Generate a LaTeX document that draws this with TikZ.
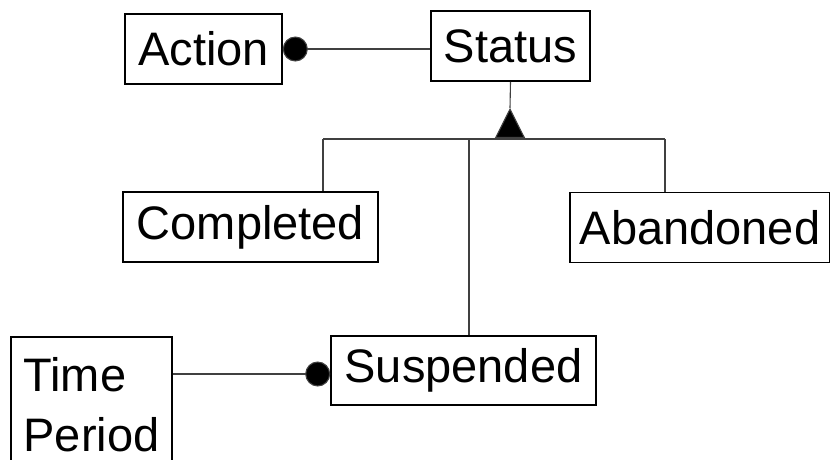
\documentclass[tikz,border=0pt]{standalone}
\usepackage{fontspec}
\setmainfont{Liberation Sans}
\usetikzlibrary{arrows.meta, positioning, calc}

\begin{document}
\begin{tikzpicture}[
  x=1pt, y=-1pt,
  entity/.style={rectangle, draw=black, line width=1.6pt, fill=white, minimum height=70pt, inner sep=0pt, align=center, font=\fontsize{47}{60}\selectfont},
  link/.style={draw=black!75, line width=1.1pt},
  dotlink/.style={link, -{Circle[length=25pt, fill=black]}},
  isa/.style={link, -{Triangle[length=30pt, width=30pt, fill=black]}}
]
  \useasboundingbox (0,0) rectangle (830,459);

  \node[entity, minimum width=157pt] (action) at (203.5,49) {Action};
  \node[entity, minimum width=159pt] (status) at (510.5,46) {Status};
  \node[entity, minimum width=255pt] (completed) at (250.5,227) {Completed};
  \node[entity, minimum width=260pt] (abandoned) at (700,227.5) {Abandoned};
  \node[entity, minimum width=265pt, minimum height=69pt] (suspended) at (463.5,370.5) {Suspended};
  \node[entity, minimum width=161pt, minimum height=136pt, align=left] (period) at (91.5,405) {Time\\Period};

  \coordinate (apex) at (510,108);
  \coordinate (gen) at (510,139);
  \coordinate (barL) at (323,139);
  \coordinate (barM) at (469,139);
  \coordinate (barR) at (665,139);

  \draw[dotlink] (status.west |- action.east) -- (action.east);
  \draw[link] (status.south) -- (apex);
  \draw[isa] (gen) -- (apex);
  \draw[link] (barL) -- (barR);
  \draw[link] (barL) -- (barL |- completed.north);
  \draw[link] (barR) -- (barR |- abandoned.north);
  \draw[link] (barM) -- (barM |- suspended.north);
  \draw[dotlink] (period.east |- 0,374) -- (suspended.west |- 0,374);
\end{tikzpicture}
\end{document}
